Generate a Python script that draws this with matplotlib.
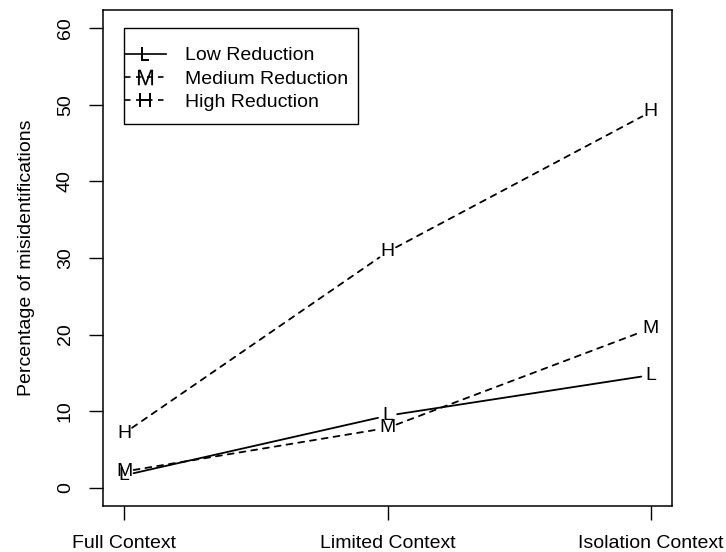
import matplotlib
matplotlib.use("Agg")
import matplotlib.pyplot as plt
from matplotlib.lines import Line2D
from matplotlib.patches import Rectangle

plt.rcParams['font.family'] = ['Liberation Sans', 'DejaVu Sans']
plt.rcParams['mathtext.fontset'] = 'custom'
plt.rcParams['mathtext.rm'] = 'Liberation Sans'

contexts = ["Full Context", "Limited Context", "Isolation Context"]
low = [1.6, 9.4, 14.7]
medium = [2.1, 7.8, 20.8]
high = [7.1, 30.8, 49.1]
series_names = ["Low Reduction", "Medium Reduction", "High Reduction"]
series_letters = ["L", "M", "H"]
series_styles = ["-", (0, (3.3, 3.3)), (0, (3.3, 3.3))]
y_ticks = [0, 10, 20, 30, 40, 50, 60]

fig = plt.figure(figsize=(7.26, 5.52), dpi=100)
ax = fig.add_axes([103/726, 1 - 506/552, 569/726, 496/552])

xs = [1, 2, 3]
FS = 14
for vals, letter, ls in zip([low, medium, high], series_letters, series_styles):
    for i in range(len(xs) - 1):
        ax.annotate("", xy=(xs[i + 1], vals[i + 1]), xytext=(xs[i], vals[i]),
                    arrowprops=dict(arrowstyle="-", shrinkA=7, shrinkB=7,
                                    linestyle=ls, linewidth=1.3, color="black"))
    for x, v in zip(xs, vals):
        ax.text(x, v, letter, ha="center", va="center", fontsize=FS, color="black")

ax.set_xlim(0.92, 3.08)
ax.set_ylim(-2.4, 62.4)
ax.set_xticks(xs)
ax.set_xticklabels(contexts, fontsize=14)
ax.set_yticks(y_ticks)
ax.set_yticklabels([str(t) for t in y_ticks], fontsize=14, rotation=90, va="center")
ax.tick_params(axis="x", length=10, width=1, pad=11)
ax.tick_params(axis="y", length=10, width=1, pad=11)
for s in ax.spines.values():
    s.set_linewidth(1.1)
ax.set_ylabel("Percentage of misidentifications", fontsize=14, labelpad=16)

marker_sizes = [9.7, 11.2, 9.9]
handles = [Line2D([], [], color="black", linestyle=ls, linewidth=1.2,
                  marker=r"$\mathrm{%s}$" % lt, markersize=ms, markeredgewidth=0)
           for lt, ls, ms in zip(series_letters, series_styles, marker_sizes)]
leg = ax.legend(handles, series_names, loc="upper left", bbox_to_anchor=(0.0387, 0.926),
                borderaxespad=0, fontsize=14, frameon=False,
                handlelength=2.1, handletextpad=1.0, labelspacing=0.3,
                borderpad=0, numpoints=1)
ax.add_patch(Rectangle((0.0369, 0.770), 0.448 - 0.0369, 0.9637 - 0.770,
                       transform=ax.transAxes, fill=False, edgecolor="black",
                       linewidth=1.0, zorder=5))

fig.savefig("out.png", dpi=100)
